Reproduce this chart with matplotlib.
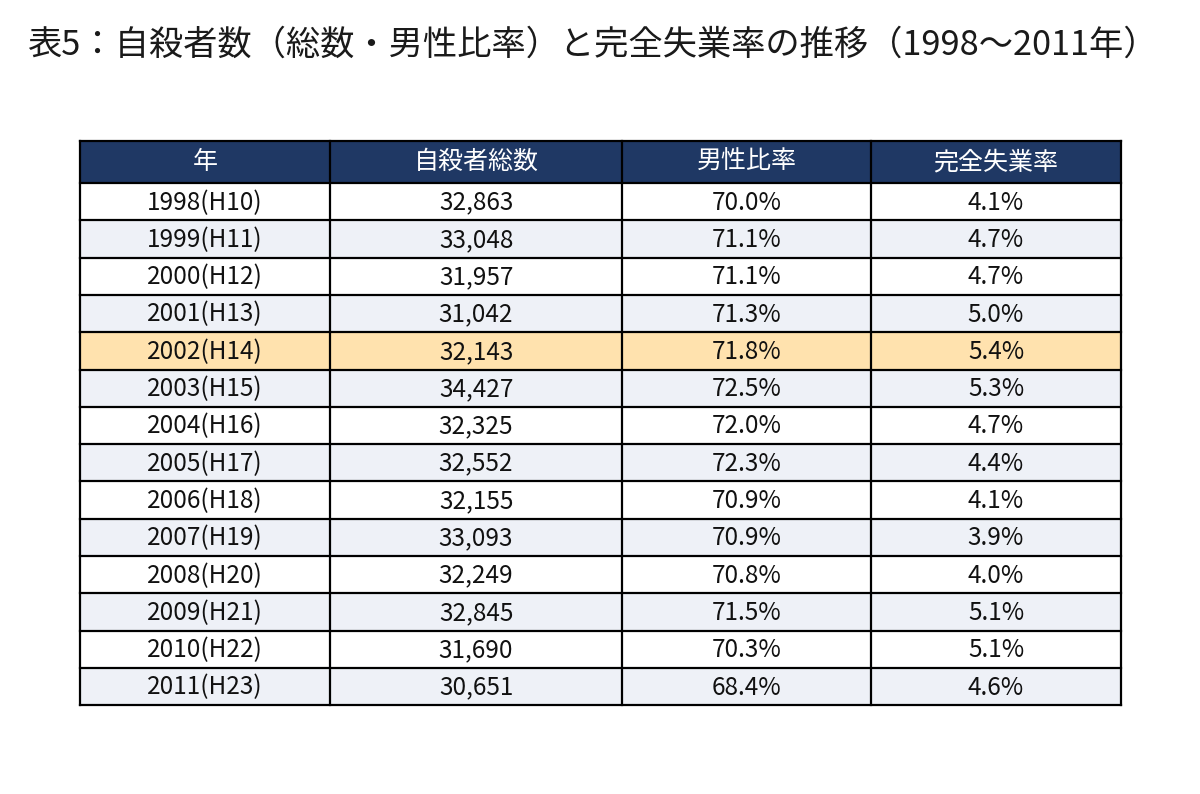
import matplotlib.pyplot as plt
from matplotlib.patches import Rectangle

plt.rcParams['font.family'] = ['Noto Sans CJK JP', 'DejaVu Sans']

# Table data.

title = "表5：自殺者数（総数・男性比率）と完全失業率の推移（1998〜2011年）"
headers = ["年", "自殺者総数", "男性比率", "完全失業率"]
years = ["1998(H10)", "1999(H11)", "2000(H12)", "2001(H13)", "2002(H14)",
         "2003(H15)", "2004(H16)", "2005(H17)", "2006(H18)", "2007(H19)",
         "2008(H20)", "2009(H21)", "2010(H22)", "2011(H23)"]
suicides = [32863, 33048, 31957, 31042, 32143, 34427, 32325, 32552, 32155,
            33093, 32249, 32845, 31690, 30651]
male_ratio = [70.0, 71.1, 71.1, 71.3, 71.8, 72.5, 72.0, 72.3, 70.9, 70.9,
              70.8, 71.5, 70.3, 68.4]
unemployment = [4.1, 4.7, 4.7, 5.0, 5.4, 5.3, 4.7, 4.4, 4.1, 3.9, 4.0, 5.1,
                5.1, 4.6]
highlight_year = "2002(H14)"

# Layout (pixels).

col_edges = [80, 330, 622, 871, 1121]
table_top = 141
header_h = 42
row_h = 37.3

header_colour = '#1F3864'
alt_colour = '#EEF1F7'
highlight_colour = '#FFE2AE'

fig = plt.figure(figsize=(12, 7.94), dpi=100)
ax = fig.add_axes([0, 0, 1, 1])
ax.set_xlim(0, 1200)
ax.set_ylim(794, 0)
ax.axis('off')

ax.text(27, 45, title, fontsize=24.7, ha='left', va='center', color='#1a1a1a')

# Header row.

for i, h in enumerate(headers):
    x0, x1 = col_edges[i], col_edges[i + 1]
    ax.add_patch(Rectangle((x0, table_top), x1 - x0, header_h,
                           facecolor=header_colour, edgecolor='none'))
    ax.text((x0 + x1) / 2, table_top + header_h / 2, h, color='white',
            fontsize=18, ha='center', va='center')

# Body rows.

for r, yr in enumerate(years):
    y0 = table_top + header_h + r * row_h
    if yr == highlight_year:
        fc = highlight_colour
    elif r % 2 == 1:
        fc = alt_colour
    else:
        fc = 'white'
    ax.add_patch(Rectangle((col_edges[0], y0), col_edges[-1] - col_edges[0],
                           row_h, facecolor=fc, edgecolor='none'))
    cells = [yr, "{:,}".format(suicides[r]), "{:.1f}%".format(male_ratio[r]),
             "{:.1f}%".format(unemployment[r])]
    for c, s in enumerate(cells):
        xc = (col_edges[c] + col_edges[c + 1]) / 2
        ax.text(xc, y0 + row_h / 2 + 1, s, color='#111111', fontsize=17.5,
                ha='center', va='center')

# Grid lines.

table_bottom = table_top + header_h + len(years) * row_h
for x in col_edges:
    ax.plot([x, x], [table_top, table_bottom], color='black', lw=1.6,
            solid_capstyle='projecting')
for r in range(len(years) + 2):
    y = table_top if r == 0 else table_top + header_h + (r - 1) * row_h
    ax.plot([col_edges[0], col_edges[-1]], [y, y], color='black', lw=1.6,
            solid_capstyle='projecting')

plt.savefig("out.png", dpi=100, facecolor='white')
plt.close()
